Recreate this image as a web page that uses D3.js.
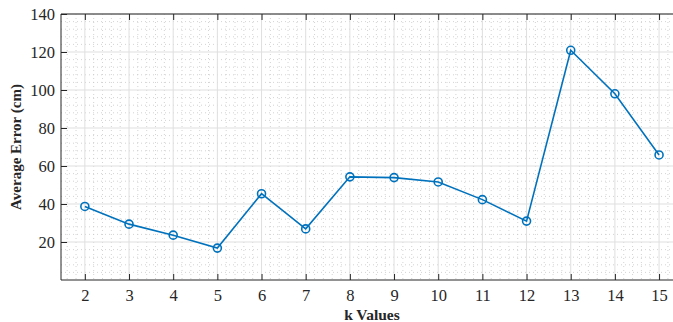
<!DOCTYPE html>
<html><head><meta charset="utf-8">
<script src="https://cdn.jsdelivr.net/npm/d3@7"></script>
<style>body{margin:0;background:#fff}svg{display:block}</style>
</head><body>
<svg id="c" width="673" height="322"></svg>
<script>
const kValues = [2,3,4,5,6,7,8,9,10,11,12,13,14,15];
const avgError = [38.7,29.4,23.6,16.8,45.4,26.9,54.3,53.9,51.6,42.3,31.0,120.9,98.0,65.8];
const xTicks = [2,3,4,5,6,7,8,9,10,11,12,13,14,15];
const yTicks = [20,40,60,80,100,120,140];

const FONT = "'Liberation Serif','Times New Roman',serif";
const svg = d3.select("#c");
const L = 61, T = 14, B = 280, R = 673;
const x = d3.scaleLinear().domain([1.46, 15.5]).range([L, L + (15.5-1.46)*44.17]);
const y = d3.scaleLinear().domain([0, 140]).range([B, T]);
const g = svg.append("g");

// minor grid
const xMinor = d3.range(1.6, 15.5, 0.2).filter(v => Math.abs(v - Math.round(v)) > 1e-6);
const yMinor = d3.range(4, 140, 4).filter(v => v % 20 !== 0);
g.selectAll(".mx").data(xMinor).join("line")
  .attr("x1", d => x(d)).attr("x2", d => x(d)).attr("y1", T).attr("y2", B)
  .attr("stroke", "#c8c8c8").attr("stroke-width", 0.8).attr("stroke-dasharray", "1,3");
g.selectAll(".my").data(yMinor).join("line")
  .attr("x1", L).attr("x2", R).attr("y1", d => y(d)).attr("y2", d => y(d))
  .attr("stroke", "#c8c8c8").attr("stroke-width", 0.8).attr("stroke-dasharray", "1,3");
// major grid
g.selectAll(".gx").data(xTicks).join("line")
  .attr("x1", d => x(d)).attr("x2", d => x(d)).attr("y1", T).attr("y2", B)
  .attr("stroke", "#dfdfdf").attr("stroke-width", 1);
g.selectAll(".gy").data(yTicks).join("line")
  .attr("x1", L).attr("x2", R).attr("y1", d => y(d)).attr("y2", d => y(d))
  .attr("stroke", "#dfdfdf").attr("stroke-width", 1);

// axes
const ax = "#262626";
const xAxis = d3.axisBottom(x).tickValues(xTicks).tickSizeInner(-6).tickSizeOuter(0).tickPadding(9);
const gx = svg.append("g").attr("transform", `translate(0,${B})`).call(xAxis);
gx.attr("font-family", null);
gx.select(".domain").remove();
gx.selectAll("line").attr("stroke", ax);
gx.selectAll("text").attr("fill", ax).style("font-family", FONT).style("font-size", "16.5px");
const xTop = d3.axisTop(x).tickValues(xTicks).tickSizeInner(-6).tickSizeOuter(0).tickFormat("");
const gt = svg.append("g").attr("transform", `translate(0,${T})`).call(xTop);
gt.select(".domain").remove();
gt.selectAll("line").attr("stroke", ax);
const yAxis = d3.axisLeft(y).tickValues(yTicks).tickSizeInner(-6).tickSizeOuter(0).tickPadding(6);
const gy = svg.append("g").attr("transform", `translate(${L},0)`).call(yAxis);
gy.attr("font-family", null);
gy.select(".domain").remove();
gy.selectAll("line").attr("stroke", ax);
gy.selectAll("text").attr("fill", ax).style("font-family", FONT).style("font-size", "16.5px");
svg.append("line").attr("x1", L).attr("x2", R).attr("y1", B).attr("y2", B).attr("stroke", ax).attr("stroke-width", 1);
svg.append("line").attr("x1", L).attr("x2", R).attr("y1", T).attr("y2", T).attr("stroke", ax).attr("stroke-width", 1);
svg.append("line").attr("x1", L).attr("x2", L).attr("y1", T).attr("y2", B).attr("stroke", ax).attr("stroke-width", 1);

// labels
svg.append("text").attr("x", x(8.5)).attr("y", 320).attr("text-anchor", "middle")
  .attr("fill", ax).style("font-family", FONT)
  .style("font-size", "15.5px").style("font-weight", "bold").text("k Values");
svg.append("text").attr("transform", `translate(21,${(T+B)/2}) rotate(-90)`).attr("text-anchor", "middle")
  .attr("fill", ax).style("font-family", FONT)
  .style("font-size", "15px").style("font-weight", "bold").text("Average Error (cm)");

// data
const data = kValues.map((k, i) => ({k, v: avgError[i]}));
svg.append("path").datum(data)
  .attr("d", d3.line().x(d => x(d.k)).y(d => y(d.v)))
  .attr("fill", "none").attr("stroke", "#0072BD").attr("stroke-width", 1.6);
svg.selectAll(".pt").data(data).join("circle")
  .attr("cx", d => x(d.k)).attr("cy", d => y(d.v)).attr("r", 4)
  .attr("fill", "none").attr("stroke", "#0072BD").attr("stroke-width", 1.6);
</script>
</body></html>
